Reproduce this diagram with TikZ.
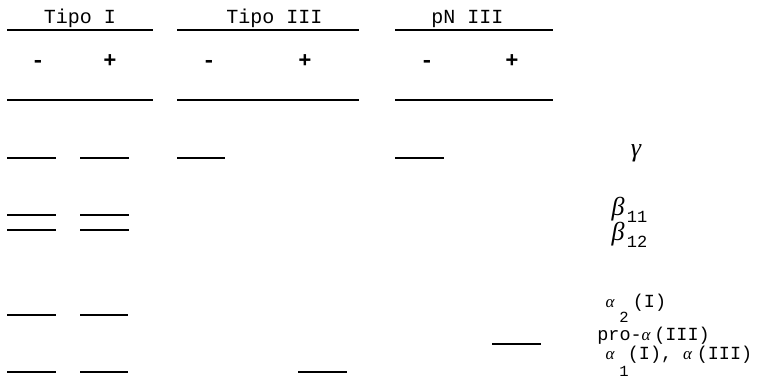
\documentclass[tikz,border=0pt]{standalone}
\usepackage{fontspec}
\newfontfamily\tw{Liberation Mono}
\newfontfamily\grk{Liberation Serif}
\tikzset{
  rulel/.style={line width=1.5pt},
  band/.style={line width=1.6pt},
  ttl/.style={font=\tw\fontsize{20}{20}\selectfont, inner sep=0pt, anchor=base},
  sgn/.style={font=\tw\bfseries\fontsize{22}{22}\selectfont, inner sep=0pt, anchor=base},
  lbl/.style={font=\tw\fontsize{18.5}{18.5}\selectfont, inner sep=0pt, anchor=base},
  sub/.style={font=\tw\fontsize{17}{17}\selectfont, inner sep=0pt, anchor=base},
  ssub/.style={font=\tw\fontsize{15.5}{15.5}\selectfont, inner sep=0pt, anchor=base},
  grl/.style={font=\grk\itshape\fontsize{26}{26}\selectfont, inner sep=0pt, anchor=base},
  alf/.style={font=\grk\itshape\fontsize{17}{17}\selectfont, inner sep=0pt, anchor=base}
}
\begin{document}
\begin{tikzpicture}[x=1pt,y=-1pt]
\useasboundingbox (0,0) rectangle (777,381);
% titles
\node[ttl] (t1) at (80,23.5) {Tipo I};
\node[ttl] (t3) at (274.5,23.5) {Tipo III};
\node[ttl] (tp) at (467.5,23.5) {pN III};
% rules
\draw[rulel] (7,30) -- (153,30);
\draw[rulel] (177,30) -- (359,30);
\draw[rulel] (395,30) -- (553,30);
\draw[rulel] (7,100) -- (153,100);
\draw[rulel] (177,100) -- (359,100);
\draw[rulel] (395,100) -- (553,100);
% signs
\node[sgn] (s1m) at (38,67) {-};
\node[sgn] (s1p) at (110,67.5) {+};
\node[sgn] (s3m) at (209,67) {-};
\node[sgn] (s3p) at (305,67.5) {+};
\node[sgn] (spm) at (427,67) {-};
\node[sgn] (spp) at (512,67.5) {+};
% gamma bands
\draw[band] (7,158) -- (56,158);
\draw[band] (80,158) -- (129,158);
\draw[band] (177,158) -- (225,158);
\draw[band] (395,158) -- (444,158);
% beta bands
\draw[band] (7,215) -- (56,215);
\draw[band] (80,215) -- (129,215);
\draw[band] (7,230) -- (56,230);
\draw[band] (80,230) -- (129,230);
% alpha2 bands
\draw[band] (7,315) -- (56,315);
\draw[band] (80,315) -- (128,315);
% pro-alpha band
\draw[band] (492,344) -- (541,344);
% alpha1 bands
\draw[band] (7,372) -- (56,372);
\draw[band] (80,372) -- (128,372);
\draw[band] (298,372) -- (347,372);
% labels
\node[grl] (lg) at (636,156) {γ};
\node[grl] (lb1) at (618,215) {β};
\node[sub] (lb1s) at (637,222) {11};
\node[grl] (lb2) at (618,240) {β};
\node[sub] (lb2s) at (637,247) {12};
\node[alf] (la2) at (610,307) {α};
\node[ssub] (la2s) at (624,322) {2};
\node[lbl] (la2t) at (649.5,307) {(I)};
\node[lbl] (lpro) at (619.5,340) {pro-};
\node[alf] (lproa) at (646,340) {α};
\node[lbl] (lprot) at (682,340) {(III)};
\node[alf] (la1) at (610,359) {α};
\node[ssub] (la1s) at (624,376) {1};
\node[lbl] (la1t) at (650,359) {(I),};
\node[alf] (la1b) at (687.5,359) {α};
\node[lbl] (la1u) at (724.5,359) {(III)};
\end{tikzpicture}
\end{document}
